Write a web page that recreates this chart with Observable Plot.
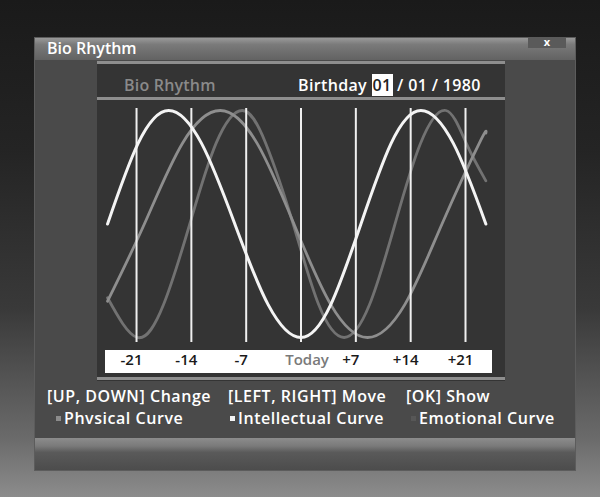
<!DOCTYPE html>
<html>
<head>
<meta charset="utf-8">
<script src="https://cdn.jsdelivr.net/npm/d3@7"></script>
<script src="https://cdn.jsdelivr.net/npm/@observablehq/plot@0.6"></script>
<style>
  html, body { margin: 0; padding: 0; }
  body { width: 600px; height: 497px; overflow: hidden; font-family: "Open Sans", sans-serif; }
  #scene { position: relative; width: 600px; height: 497px;
    background: linear-gradient(180deg, #1a1a1a 0%, #242424 30%, #393939 62%, #6a6a6a 88%, #8c8c8c 100%); }
  .abs { position: absolute; white-space: pre; }
  #win { left: 35px; top: 38px; width: 540px; height: 432px; background: #4a4a4a; box-shadow: 0 0 0 1px #5c5c5c; }
  #titlebar { left: 35px; top: 38px; width: 540px; height: 22px;
    background: linear-gradient(180deg, #999 0%, #7a7a7a 30%, #626262 100%); }
  #title { left: 47px; top: 37px; color: #fff; font-size: 16px; font-weight: 600; }
  #close { left: 528px; top: 37px; width: 38px; height: 11px; background: #5a5a5a; color: #fff; font-size: 11px; line-height: 9px; text-align: center; font-weight: 700; }
  #panel { left: 97px; top: 61px; width: 408px; height: 320px; background: #343434; }
  .hline { left: 97px; width: 408px; height: 3px; background: #8e8e8e; }
  #htitle { left: 124px; top: 74px; color: #8a8a8a; font-size: 16px; font-weight: 600; letter-spacing: 0.2px; }
  #bday { left: 298px; top: 74px; color: #fff; font-size: 16px; font-weight: 600; letter-spacing: 0.35px; }
  #bday .sel { background: #fff; color: #222; padding: 0 1px; }
  #band { left: 105px; top: 350px; width: 387px; height: 23px; background: #fff; }
  #chart { left: 97px; top: 100px; }
  .txt { color: #fff; font-size: 16px; font-weight: 600; letter-spacing: 0.55px; }
  .mk { width: 5px; height: 5px; top: 416px; }
  #bottombar { left: 35px; top: 438px; width: 540px; height: 32px;
    background: linear-gradient(180deg, #8c8c8c 0%, #7a7a7a 25%, #5a5a5a 45%, #4c4c4c 100%); }
</style>
</head>
<body>
<div id="scene">
  <div class="abs" id="win"></div>
  <div class="abs" id="titlebar"></div>
  <div class="abs" id="title">Bio Rhythm</div>
  <div class="abs" id="close">x</div>
  <div class="abs" id="panel"></div>
  <div class="abs hline" style="top:61px"></div>
  <div class="abs hline" style="top:97px"></div>
  <div class="abs hline" style="top:377px"></div>
  <div class="abs" id="htitle">Bio Rhythm</div>
  <div class="abs" id="bday">Birthday <span class="sel">01</span> / 01 / 1980</div>
  <div class="abs" id="band"></div>
  <div class="abs" id="chart"></div>
  <div class="abs txt" style="left:47px; top:385px">[UP, DOWN] Change</div>
  <div class="abs txt" style="left:228px; top:385px">[LEFT, RIGHT] Move</div>
  <div class="abs txt" style="left:406px; top:385px">[OK] Show</div>
  <div id="legend"></div>
  <div class="abs" id="bottombar"></div>
</div>
<script>
// Tick days and labels of the x band
const tickDays = [-21, -14, -7, 0, 7, 14, 21];
const tickLabels = ["-21", "-14", "-7", "Today", "+7", "+14", "+21"];

// Curves (day offset, value in % of amplitude)
const intellectualDays   = [-24.7, -20.8, -16.9, -12.7, -8.45, -4.2, 0, 3.8, 7.65, 11.5, 15.3, 19.45, 23.6];
const intellectualValues = [0, 71, 100, 71, 0, -71, -100, -71, 0, 71, 100, 71, 0];

const physicalDays   = [-24.7, -20, -15.15, -10.3, -5.6, -0.9, 3.8, 8.5, 13.25, 18, 22.75, 23.6];
const physicalValues = [-68, 0, 71, 100, 71, 0, -71, -100, -71, 0, 71, 80];

const emotionalDays   = [-24.7, -20.9, -17.55, -14.2, -10.85, -7.5, -4.5, -1, 2.25, 5.5, 8.75, 12, 15.25, 18.5, 21.1, 23.6];
const emotionalValues = [-65, -100, -71, 0, 71, 100, 71, 0, -71, -100, -71, 0, 71, 100, 71, 38];

// Legend
const legendNames = ["Phvsical Curve", "Intellectual Curve", "Emotional Curve"];
const legendColors = ["#8c8c8c", "#f4f4f4", "#575757"];

const toRows = (days, values) => days.map((d, i) => ({day: d, value: values[i]}));
const physical = toRows(physicalDays, physicalValues);
const emotional = toRows(emotionalDays, emotionalValues);
const intellectual = toRows(intellectualDays, intellectualValues);
const ticks = tickDays.map((d, i) => ({day: d, label: tickLabels[i]}));

const chart = Plot.plot({
  width: 408,
  height: 275,
  marginLeft: 7.7,
  marginRight: 16.5,
  marginTop: 10,
  marginBottom: 38,
  x: {domain: [-25, 24], axis: null},
  y: {domain: [-100, 100], axis: null},
  style: {background: "transparent", fontFamily: "Open Sans, sans-serif", overflow: "visible"},
  marks: [
    Plot.line(emotional, {x: "day", y: "value", curve: "natural", stroke: "#727272", strokeWidth: 2.8}),
    Plot.line(physical, {x: "day", y: "value", curve: "natural", stroke: "#8e8e8e", strokeWidth: 2.8}),
    Plot.ruleX(tickDays, {stroke: "#f0f0f0", strokeWidth: 2, insetTop: -2, insetBottom: -5}),
    Plot.line(intellectual, {x: "day", y: "value", curve: "natural", stroke: "#f4f4f4", strokeWidth: 3}),
    Plot.text(ticks.filter(t => t.day !== 0), {x: "day", text: "label", frameAnchor: "bottom", dy: 27, dx: -5,
      fill: "#1a1a1a", fontSize: 15, fontWeight: 600}),
    Plot.text(ticks.filter(t => t.day === 0), {x: "day", text: "label", frameAnchor: "bottom", dy: 27, dx: 6,
      fill: "#7a7a7a", fontSize: 15, fontWeight: 600})
  ]
});
document.getElementById("chart").appendChild(chart);

const legend = document.getElementById("legend");
const markerLeft = [56, 230, 411];
legendNames.forEach((name, i) => {
  const mk = document.createElement("div");
  mk.className = "abs mk";
  mk.style.left = markerLeft[i] + "px";
  mk.style.background = legendColors[i];
  legend.appendChild(mk);
  const t = document.createElement("div");
  t.className = "abs txt";
  t.style.left = (markerLeft[i] + 8) + "px";
  t.style.top = "407px";
  t.textContent = name;
  legend.appendChild(t);
});
</script>
</body>
</html>
